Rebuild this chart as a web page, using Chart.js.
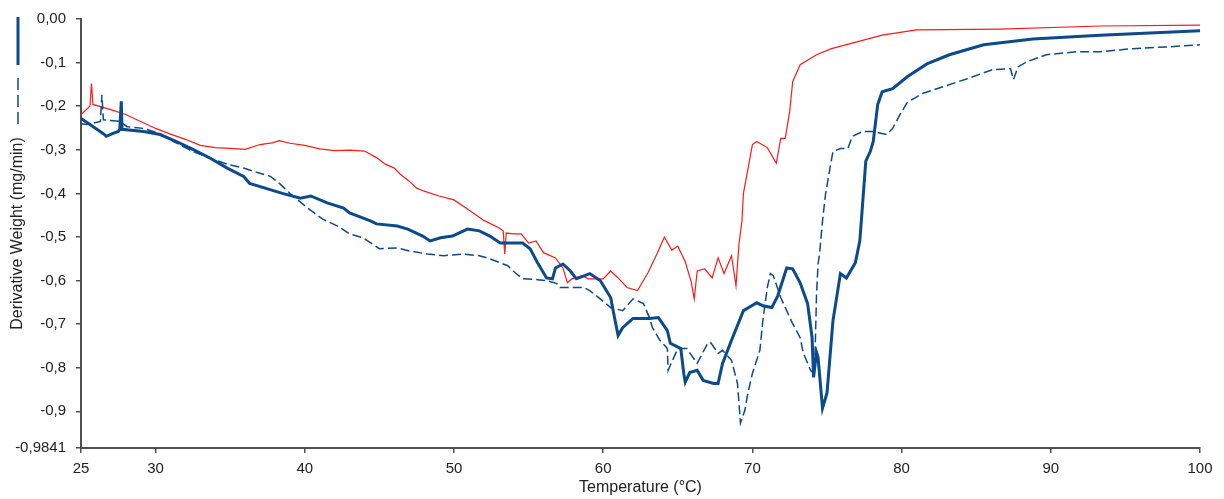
<!DOCTYPE html>
<html>
<head>
<meta charset="utf-8">
<script src="https://cdn.jsdelivr.net/npm/chart.js@4"></script>
<style>
  body { margin: 0; background: #fff; }
</style>
</head>
<body>
<canvas id="dtgChart" width="1224" height="499"></canvas>
<script>
var xTicks = [25, 30, 40, 50, 60, 70, 80, 90, 100];
var yTicks = [0, -0.1, -0.2, -0.3, -0.4, -0.5, -0.6, -0.7, -0.8, -0.9, -0.9841];
var yTickLabels = ["0,00", "-0,1", "-0,2", "-0,3", "-0,4", "-0,5", "-0,6", "-0,7", "-0,8", "-0,9", "-0,9841"];

// red curve
var redT = [25,25.6,25.7,25.8,27,28,29,30,31,32,33,34,35,36,37,37.8,38.3,39,40,41,42,43,44,44.8,45.4,46,46.4,47,47.5,48,49,50,51,52,53,53.3,53.4,53.5,54,54.5,55,55.5,56,56.8,57.3,57.6,57.9,58.6,59,60,60.5,61,61.6,62.3,63,63.6,64.1,64.6,65,65.5,65.9,66.1,66.3,66.8,67.3,67.7,68.1,68.6,68.9,69.1,69.3,69.4,70,70.3,71,71.6,71.9,72.2,72.5,72.7,73.2,74.3,75.3,76.5,78.7,81,86.6,93.3,100];
var redV = [-0.219,-0.200,-0.148,-0.196,-0.208,-0.219,-0.235,-0.251,-0.264,-0.276,-0.290,-0.295,-0.297,-0.299,-0.288,-0.284,-0.279,-0.285,-0.290,-0.298,-0.302,-0.301,-0.303,-0.318,-0.333,-0.342,-0.356,-0.372,-0.388,-0.395,-0.406,-0.415,-0.438,-0.462,-0.479,-0.486,-0.539,-0.491,-0.493,-0.493,-0.514,-0.509,-0.536,-0.548,-0.571,-0.605,-0.596,-0.589,-0.596,-0.596,-0.578,-0.594,-0.616,-0.623,-0.582,-0.539,-0.500,-0.530,-0.521,-0.557,-0.603,-0.642,-0.578,-0.573,-0.594,-0.548,-0.584,-0.543,-0.612,-0.516,-0.463,-0.400,-0.288,-0.281,-0.295,-0.331,-0.274,-0.274,-0.212,-0.144,-0.105,-0.082,-0.068,-0.057,-0.037,-0.025,-0.023,-0.016,-0.014];

// thick blue curve
var solidT = [25,25.6,26.5,26.7,27.1,27.5,27.6,27.7,27.75,29.2,30.3,31.4,32.5,33.7,34.8,35.9,36.3,38.5,39.7,40.4,41.5,42.6,43,44.4,44.8,46.2,46.9,47.9,48.4,49.1,49.9,50.9,51.7,52.4,53.1,54.6,55.1,55.6,56.2,56.6,56.8,57.3,57.8,58.2,59.1,59.8,60.5,60.8,61,61.3,62,63.1,63.7,64.3,64.5,65.2,65.4,65.5,65.8,66.3,66.7,67.4,67.7,68,68.6,69.4,70.3,70.7,71.3,71.7,72.3,72.7,73.2,73.7,74,74.1,74.3,74.4,74.7,75,75.4,75.9,76.3,76.9,77.2,77.4,77.6,77.9,78.1,78.4,78.7,79.4,80.4,81.7,83.2,85.5,88.8,93.3,100];
var solidV = [-0.228,-0.242,-0.263,-0.269,-0.263,-0.258,-0.253,-0.189,-0.253,-0.258,-0.265,-0.281,-0.299,-0.320,-0.342,-0.361,-0.377,-0.400,-0.411,-0.406,-0.422,-0.434,-0.445,-0.463,-0.470,-0.475,-0.482,-0.498,-0.509,-0.502,-0.498,-0.482,-0.486,-0.498,-0.514,-0.514,-0.527,-0.559,-0.594,-0.596,-0.571,-0.562,-0.578,-0.596,-0.584,-0.600,-0.639,-0.692,-0.726,-0.708,-0.687,-0.687,-0.685,-0.715,-0.744,-0.756,-0.813,-0.833,-0.811,-0.806,-0.829,-0.836,-0.836,-0.790,-0.737,-0.669,-0.651,-0.658,-0.662,-0.635,-0.571,-0.573,-0.605,-0.653,-0.731,-0.822,-0.765,-0.776,-0.893,-0.858,-0.692,-0.584,-0.594,-0.559,-0.509,-0.418,-0.326,-0.304,-0.281,-0.196,-0.167,-0.160,-0.132,-0.103,-0.082,-0.059,-0.046,-0.037,-0.027];

// dashed blue curve
var dashT = [25,25.4,26.3,26.4,26.5,27.6,28.1,29.2,30.3,31.2,32.5,33.7,34.8,35.9,37,37.7,38.3,39,40.2,41.2,42.2,43,43.9,45,46.2,47,48.2,49.3,50.6,51.7,52.4,53.6,54.1,54.6,55.6,56.2,56.9,57.1,58.7,59.1,59.8,60.5,61.3,62,62.7,63.1,63.3,63.8,64.3,64.35,65,65.6,66.3,67,67.2,67.7,68,68.6,69,69.2,69.5,69.7,70,70.5,70.7,71,71.2,71.4,71.9,72.3,72.7,73.2,73.4,73.9,74.1,74.2,74.3,74.4,74.5,74.7,74.9,75.2,75.4,75.9,76.4,76.7,77.4,78.1,79,79.4,79.9,80.4,80.8,81.4,82.8,84.4,86.1,87.3,87.5,87.8,88.4,89.7,91.8,93.3,95.5,97.8,100];
var dashV = [-0.240,-0.242,-0.235,-0.174,-0.231,-0.235,-0.247,-0.251,-0.263,-0.281,-0.304,-0.320,-0.333,-0.342,-0.354,-0.361,-0.377,-0.400,-0.434,-0.459,-0.475,-0.493,-0.502,-0.527,-0.525,-0.532,-0.539,-0.543,-0.539,-0.543,-0.550,-0.566,-0.582,-0.596,-0.598,-0.600,-0.607,-0.616,-0.616,-0.623,-0.642,-0.662,-0.669,-0.642,-0.653,-0.685,-0.708,-0.737,-0.756,-0.806,-0.756,-0.756,-0.790,-0.744,-0.742,-0.767,-0.760,-0.783,-0.836,-0.927,-0.897,-0.858,-0.813,-0.760,-0.692,-0.616,-0.584,-0.589,-0.639,-0.669,-0.699,-0.731,-0.765,-0.806,-0.813,-0.767,-0.630,-0.562,-0.539,-0.463,-0.402,-0.342,-0.304,-0.297,-0.297,-0.269,-0.258,-0.258,-0.265,-0.251,-0.219,-0.190,-0.183,-0.171,-0.155,-0.137,-0.116,-0.114,-0.139,-0.110,-0.098,-0.082,-0.075,-0.075,-0.068,-0.064,-0.059];

var BLUE = "#0b4a8c";
var RED = "#ff1a1a";
var AXIS = "#505050";

function pts(xs, ys) {
  return xs.map(function (x, i) { return { x: x, y: ys[i] }; });
}

// little vertical line samples in the top-left corner
var sidePlugin = {
  id: "sideSamples",
  afterDraw: function (chart) {
    var ctx = chart.ctx;
    ctx.save();
    ctx.strokeStyle = BLUE;
    ctx.lineWidth = 3;
    ctx.beginPath();
    ctx.moveTo(18, 17);
    ctx.lineTo(18, 65);
    ctx.stroke();
    ctx.lineWidth = 1.5;
    ctx.setLineDash([12, 5]);
    ctx.beginPath();
    ctx.moveTo(18, 78);
    ctx.lineTo(18, 127);
    ctx.stroke();
    ctx.restore();
  }
};

Chart.defaults.font.family = "'Liberation Sans', Arial, sans-serif";
Chart.defaults.font.size = 15;
Chart.defaults.color = "#222";

new Chart("dtgChart", {
  type: "line",
  data: {
    datasets: [{
      data: pts(solidT, solidV),
      borderColor: BLUE,
      borderWidth: 3,
      pointRadius: 0,
      fill: false
    }, {
      data: pts(dashT, dashV),
      borderColor: BLUE,
      borderWidth: 1.5,
      borderDash: [9, 4],
      pointRadius: 0,
      fill: false
    }, {
      data: pts(redT, redV),
      borderColor: RED,
      borderWidth: 1.2,
      pointRadius: 0,
      fill: false
    }]
  },
  options: {
    responsive: false,
    animation: false,
    devicePixelRatio: 1,
    layout: { padding: { top: 17, right: 24, left: 0, bottom: 0 } },
    plugins: {
      legend: { display: false },
      tooltip: { enabled: false }
    },
    scales: {
      x: {
        type: "linear",
        min: 25,
        max: 100,
        afterFit: function (s) { s.height = 51; },
        afterBuildTicks: function (s) { s.ticks = xTicks.map(function (v) { return { value: v }; }); },
        ticks: { padding: 7, maxRotation: 0 },
        grid: { drawOnChartArea: false, tickLength: 5, color: AXIS, lineWidth: 1.5 },
        border: { color: AXIS, width: 2 },
        title: { display: true, text: "Temperature (°C)", font: { size: 16 }, padding: { top: 0, bottom: 2 } }
      },
      y: {
        type: "linear",
        min: -0.9841,
        max: 0,
        afterFit: function (s) { s.width = 81; },
        afterBuildTicks: function (s) { s.ticks = yTicks.map(function (v) { return { value: v }; }); },
        ticks: {
          padding: 10,
          callback: function (v, i) { return yTickLabels[i]; }
        },
        grid: { drawOnChartArea: false, tickLength: 5, color: AXIS, lineWidth: 1.5 },
        border: { color: AXIS, width: 2 },
        title: { display: true, text: "Derivative Weight (mg/min)", font: { size: 16 }, padding: { top: 8, bottom: 0 } }
      }
    }
  },
  plugins: [sidePlugin]
});
</script>
</body>
</html>
